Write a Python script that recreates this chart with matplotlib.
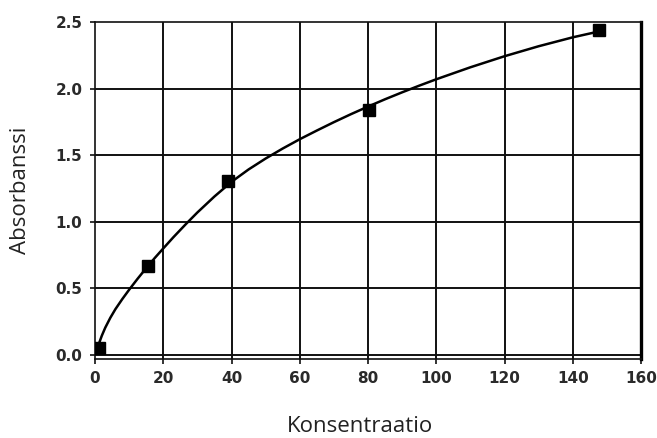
import numpy as np
import matplotlib.pyplot as plt

# mittauspisteet
konsentraatio = [1.2, 15.6, 39.0, 80.2, 147.7]
absorbanssi = [0.05, 0.67, 1.31, 1.84, 2.44]

# sovituskayra luettuna kuvasta
kayra_x = [0.5, 1, 2, 3, 4.5, 6, 8, 10, 12.5, 15, 17.5, 20, 23, 26.6, 30, 35, 40,
           45, 50, 55, 60, 65, 70, 75, 80, 85, 90, 95, 100, 110, 120, 130, 140, 147]
kayra_y = [0.035, 0.075, 0.145, 0.205, 0.28, 0.345, 0.42, 0.49, 0.573, 0.652, 0.728,
           0.80, 0.885, 0.982, 1.07, 1.19, 1.30, 1.393, 1.475, 1.55, 1.62, 1.685,
           1.748, 1.808, 1.865, 1.92, 1.972, 2.022, 2.07, 2.16, 2.243, 2.318, 2.385, 2.425]

x_ticks = [0, 20, 40, 60, 80, 100, 120, 140, 160]
y_ticks = [0.0, 0.5, 1.0, 1.5, 2.0, 2.5]

fig = plt.figure(figsize=(6.57, 4.38), dpi=100)
ax = fig.add_axes([95 / 657, 1 - 359 / 438, 546 / 657, 337 / 438])

for xv in x_ticks[1:-1]:
    ax.axvline(xv, color='#111111', lw=1.4, zorder=1)
for yv in y_ticks[:-1]:
    ax.axhline(yv, color='#111111', lw=1.4, zorder=1)

ax.plot(kayra_x, kayra_y, color='black', lw=1.8, zorder=2)
ax.plot(konsentraatio, absorbanssi, 's', color='black', ms=8, zorder=3)

ax.set_xlim(0, 160)
ax.set_ylim(-0.03, 2.5)
ax.set_xticks(x_ticks)
ax.set_yticks(y_ticks)
ax.set_yticklabels(['%.1f' % v for v in y_ticks])

for s in ['left', 'top', 'bottom']:
    ax.spines[s].set_linewidth(1.2)
    ax.spines[s].set_color('#111111')
ax.spines['right'].set_linewidth(2.4)
ax.spines['right'].set_color('black')

ax.tick_params(axis='both', direction='out', length=3.6, width=1.2, color='#111111',
               labelsize=11, labelcolor='#2a2a2a')
ax.tick_params(axis='x', pad=5)
ax.tick_params(axis='y', pad=5.5)
for lab in ax.get_xticklabels() + ax.get_yticklabels():
    lab.set_fontfamily('DejaVu Sans')
    lab.set_fontweight('bold')

fig.text(360 / 657, 1 - 432 / 438, 'Konsentraatio', fontsize=16, family='Open Sans',
         color='#222222', ha='center', va='baseline')
fig.text(21 / 657, 1 - 190 / 438, 'Absorbanssi', fontsize=16, family='Open Sans',
         color='#222222', ha='center', va='center', rotation=90)

fig.savefig('out.png', dpi=100)
